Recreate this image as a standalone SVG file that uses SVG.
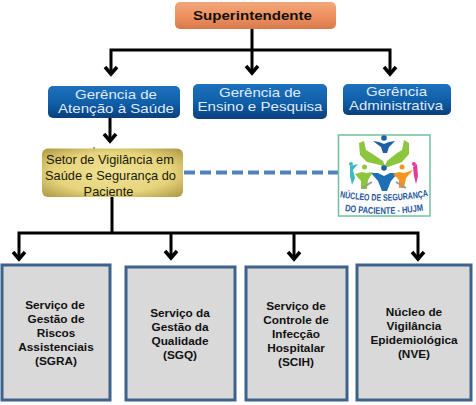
<svg xmlns="http://www.w3.org/2000/svg" width="476" height="405" viewBox="0 0 476 405">
<style>
text{font-family:"Liberation Sans",Arial,sans-serif;text-anchor:middle}
.w{fill:#dfeaf6;font-size:12.2px}
.g{fill:#111;font-size:11.8px;font-weight:700}
.y{fill:#1c1a08;font-size:12.8px}
.box{fill:#d9d9d9;stroke:#3f628d;stroke-width:3}
.blue{fill:url(#bl)}
.c{fill:none;stroke:#000;stroke-width:3}
.h{fill:none;stroke:#000;stroke-width:3.500}
.l{font-weight:700;fill:#1f55a0;font-size:9.400px}
</style>
<defs>
<linearGradient id="bl" x1="0" y1="0" x2="0" y2="1"><stop offset="0" stop-color="#1f71bd"/><stop offset=".55" stop-color="#0f5ea8"/><stop offset="1" stop-color="#0a3f7c"/></linearGradient>
<linearGradient id="or" x1="0" y1="0" x2="0" y2="1"><stop offset="0" stop-color="#f2a77c"/><stop offset=".5" stop-color="#ef9260"/><stop offset="1" stop-color="#d9794a"/></linearGradient>
<radialGradient id="ye" cx=".5" cy=".5" r=".7"><stop offset="0" stop-color="#f0e296"/><stop offset=".6" stop-color="#e6d47c"/><stop offset="1" stop-color="#ad9742"/></radialGradient>
<path id="l1" d="M339 197Q384 205 429 196"/>
<path id="l2" d="M344 211Q384 217 424 210.500"/>
</defs>
<g id="connectors">
<path class="c" d="M252 29V72M111 73V50H390V73"/>
<path class="c" d="M110 118V140"/>
<path class="c" d="M112 197V233M19 257V233H418V257"/>
<path class="c" d="M171 233V256M294 233V257"/>
<path class="h" d="M105 67L111 74L117 67M246 66L252 73L258 66M384 67L390 74L396 67M104 134L110 141L116 134M13 252L19 259L25 252M165 251L171 258L177 251M288 252L294 259L300 252M412 252L418 259L424 252"/>
<path d="M94 147V151" stroke="#333" stroke-width="1"/>
<path d="M184 172.500H338" fill="none" stroke="#4f81bd" stroke-width="4" stroke-dasharray="11 5"/>
</g>
<g id="superintendente"><rect x="175" y="2" width="161" height="27" rx="5" fill="url(#or)"/><text class="g" x="252.500" y="20" style="font-size:13.500px" textLength="119" lengthAdjust="spacingAndGlyphs">Superintendente</text></g>
<g id="gerencia-atencao"><rect class="blue" x="48" y="86" width="132" height="32" rx="5"/><text class="w" x="116" y="99" textLength="82" lengthAdjust="spacingAndGlyphs">Gerência de</text><text class="w" x="116" y="113" textLength="116" lengthAdjust="spacingAndGlyphs">Atenção à Saúde</text></g>
<g id="gerencia-ensino"><rect class="blue" x="193" y="84" width="134" height="35" rx="5"/><text class="w" x="260" y="97" textLength="82" lengthAdjust="spacingAndGlyphs">Gerência de</text><text class="w" x="260" y="111" textLength="125" lengthAdjust="spacingAndGlyphs">Ensino e Pesquisa</text></g>
<g id="gerencia-admin"><rect class="blue" x="343" y="84" width="108" height="31" rx="5"/><text class="w" x="396.500" y="96" textLength="61" lengthAdjust="spacingAndGlyphs">Gerência</text><text class="w" x="396" y="110" textLength="94" lengthAdjust="spacingAndGlyphs">Administrativa</text></g>
<g id="setor-vigilancia"><rect x="42" y="148.500" width="141" height="48.500" rx="6" fill="url(#ye)"/><text class="y" x="110" y="164">Setor de Vigilância em</text><text class="y" x="110.500" y="180">Saúde e Segurança do</text><text class="y" x="108.500" y="195.500">Paciente</text></g>
<g id="logo">
<rect x="338.500" y="135" width="91.500" height="81" fill="#fff" stroke="#6fc2a0" stroke-width="1.500"/>
<path d="M359 143L364 141L366 150L371 153L383 161L386 168L380 165L367 162L360 155ZM409 143L404 140L402 150L397 153L387 161L384 168L391 166L402 162L409 154Z" fill="#8cc63f"/>
<circle cx="384" cy="138" r="2.800" fill="#1f5fa8"/><path d="M373 141L379 142L384 144L389 142L395 141L389 147L387 153H383L381 147Z" fill="#1f5fa8"/>
<circle cx="384" cy="168" r="2.800" fill="#1f5fa8"/><path d="M371 173L378 173L384 176L390 173L398 173L391 181L387 191H382L378 181Z" fill="#1f6fb5"/>
<circle cx="364.500" cy="167" r="2.500" fill="#8cc63f"/><path d="M355 174L362 172L366 173L373 172L368 180L367 189L361 189L361 181Z" fill="#8cc63f"/>
<circle cx="402" cy="167" r="2.500" fill="#f7941d"/><path d="M393 174L399 172L404 173L413 170L406 178L404 188H399L399 180Z" fill="#f7941d"/>
<path d="M350 166L358 164L353 170L355 178L352 185L350 176Z" fill="#3fb8c6"/><circle cx="351" cy="164" r="2" fill="#3fb8c6"/>
<path d="M417 164L413 167L414 176L416 184L418 176Z" fill="#e6399b"/><circle cx="414" cy="164" r="2" fill="#e6399b"/>
<path d="M362 188L372 182M406 188L396 182" stroke="#9a9a9a" stroke-width="2"/>
<text class="l"><textPath href="#l1" startOffset="50%" textLength="89" lengthAdjust="spacingAndGlyphs">NÚCLEO DE SEGURANÇA</textPath></text>
<text class="l"><textPath href="#l2" startOffset="50%" textLength="79" lengthAdjust="spacingAndGlyphs">DO PACIENTE - HUJM</textPath></text>
</g>
<g id="sgra"><rect class="box" x="2" y="265" width="108" height="135"/><text class="g" x="55" y="309">Serviço de</text><text class="g" x="56" y="323">Gestão de</text><text class="g" x="56" y="337">Riscos</text><text class="g" x="56" y="351">Assistenciais</text><text class="g" x="56" y="365">(SGRA)</text></g>
<g id="sgq"><rect class="box" x="126" y="267" width="109" height="133"/><text class="g" x="180" y="317">Serviço da</text><text class="g" x="180" y="331">Gestão da</text><text class="g" x="180" y="345">Qualidade</text><text class="g" x="180" y="359">(SGQ)</text></g>
<g id="scih"><rect class="box" x="246" y="267" width="101" height="133"/><text class="g" x="296" y="310">Serviço de</text><text class="g" x="296" y="324">Controle de</text><text class="g" x="296" y="338">Infecção</text><text class="g" x="296" y="352">Hospitalar</text><text class="g" x="296" y="366">(SCIH)</text></g>
<g id="nve"><rect class="box" x="357" y="265" width="114" height="135"/><text class="g" x="414" y="316">Núcleo de</text><text class="g" x="414" y="330">Vigilância</text><text class="g" x="414" y="344">Epidemiológica</text><text class="g" x="414" y="358">(NVE)</text></g>
</svg>
